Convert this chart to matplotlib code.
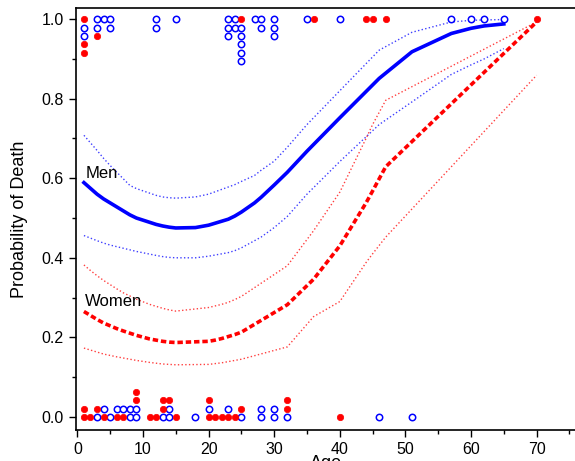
import matplotlib
matplotlib.use("Agg")
import matplotlib.pyplot as plt
from matplotlib.ticker import MultipleLocator

plt.rcParams['font.family'] = ['Liberation Sans', 'DejaVu Sans']

# observed outcomes, listed in the order they stack at each age
died_ages = [1, 1, 1, 1, 1, 3, 3, 3, 4, 5, 5, 12, 12, 15, 23, 23, 23, 24, 24,
             25, 25, 25, 25, 25, 25, 27, 28, 28, 30, 30, 30, 35, 36, 40, 44, 45,
             47, 57, 60, 62, 65, 70]
died_sex = ['F', 'M', 'M', 'F', 'F', 'M', 'M', 'F', 'M', 'M', 'M', 'M', 'M', 'M',
            'M', 'M', 'M', 'M', 'M', 'F', 'M', 'M', 'M', 'M', 'M', 'M', 'M', 'M',
            'M', 'M', 'M', 'M', 'F', 'M', 'F', 'F', 'F', 'M', 'M', 'M', 'M', 'F']
surv_ages = [1, 1, 2, 3, 3, 4, 4, 5, 6, 6, 7, 7, 8, 8, 9, 9, 9, 9, 11, 12, 13, 13,
             13, 14, 14, 14, 15, 18, 20, 20, 20, 21, 22, 23, 23, 24, 25, 25, 28, 28,
             30, 30, 32, 32, 32, 40, 46, 51]
surv_sex = ['F', 'F', 'F', 'M', 'F', 'F', 'M', 'M', 'F', 'M', 'F', 'M', 'M', 'M',
            'M', 'M', 'F', 'F', 'F', 'F', 'M', 'F', 'F', 'M', 'M', 'F', 'F', 'M',
            'F', 'M', 'F', 'F', 'F', 'F', 'M', 'F', 'M', 'F', 'M', 'M', 'M', 'M',
            'M', 'F', 'F', 'F', 'M', 'M']

# fitted probabilities with confidence limits
men_age = [1, 3, 4, 5, 8, 9, 12, 13, 14, 15, 18, 20, 23, 24, 25, 27, 28, 30, 32,
           35, 40, 46, 51, 57, 60, 62, 65]
men_fit = [0.589, 0.560, 0.548, 0.538, 0.508, 0.500, 0.484, 0.480, 0.477, 0.475,
           0.476, 0.482, 0.497, 0.505, 0.515, 0.538, 0.552, 0.583, 0.615, 0.668,
           0.752, 0.851, 0.918, 0.964, 0.977, 0.983, 0.988]
men_upper = [0.708, 0.670, 0.650, 0.632, 0.582, 0.574, 0.557, 0.553, 0.551, 0.550,
             0.553, 0.560, 0.578, 0.584, 0.592, 0.607, 0.620, 0.643, 0.678, 0.735,
             0.820, 0.922, 0.967, 0.993, 0.997, 0.998, 0.999]
men_lower = [0.456, 0.443, 0.437, 0.432, 0.420, 0.416, 0.406, 0.403, 0.401, 0.400,
             0.400, 0.404, 0.413, 0.418, 0.425, 0.443, 0.452, 0.476, 0.504, 0.560,
             0.642, 0.735, 0.792, 0.861, 0.885, 0.900, 0.926]

women_age = [1, 2, 3, 4, 6, 7, 9, 11, 12, 13, 14, 15, 20, 21, 22, 23, 24, 25, 32,
             36, 40, 44, 45, 47, 70]
women_fit = [0.265, 0.255, 0.245, 0.236, 0.222, 0.216, 0.205, 0.196, 0.193, 0.190,
             0.188, 0.187, 0.190, 0.193, 0.197, 0.202, 0.207, 0.213, 0.282, 0.346,
             0.430, 0.538, 0.568, 0.629, 0.993]
women_upper = [0.382, 0.368, 0.355, 0.343, 0.322, 0.312, 0.296, 0.283, 0.278, 0.273,
               0.269, 0.266, 0.275, 0.279, 0.283, 0.288, 0.295, 0.303, 0.380, 0.468,
               0.565, 0.700, 0.735, 0.796, 0.993]
women_lower = [0.173, 0.168, 0.163, 0.158, 0.151, 0.148, 0.142, 0.137, 0.135, 0.133,
               0.132, 0.131, 0.132, 0.134, 0.136, 0.139, 0.142, 0.145, 0.176, 0.252,
               0.290, 0.388, 0.410, 0.452, 0.859]

BLUE = '#0000ff'
RED = '#ff0000'
STEP = 0.021  # vertical offset between stacked points


def stack(ages, sexes, base, direction):
    seen = {}
    pts = {'M': ([], []), 'F': ([], [])}
    for a, s in zip(ages, sexes):
        k = seen.get(a, 0)
        seen[a] = k + 1
        pts[s][0].append(a)
        pts[s][1].append(base + direction * k * STEP)
    return pts


def main():
    fig = plt.figure(figsize=(5.75, 4.61), dpi=100)
    ax = fig.add_axes([0.1317, 0.0672, 0.87, 0.9154])

    ax.plot(men_age, men_upper, ls=':', lw=1.0, color=BLUE, alpha=0.75)
    ax.plot(men_age, men_lower, ls=':', lw=1.0, color=BLUE, alpha=0.75)
    ax.plot(women_age, women_upper, ls=':', lw=1.0, color=RED, alpha=0.75)
    ax.plot(women_age, women_lower, ls=':', lw=1.0, color=RED, alpha=0.75)
    ax.plot(men_age, men_fit, ls='-', lw=2.6, color=BLUE)
    ax.plot(women_age, women_fit, lw=2.6, color=RED, dashes=(1.5, 0.8))

    for pts in (stack(died_ages, died_sex, 1.0, -1), stack(surv_ages, surv_sex, 0.0, 1)):
        ax.plot(pts['M'][0], pts['M'][1], 'o', ms=4.6, mfc='white', mec=BLUE,
                mew=1.1, ls='none', zorder=5)
        ax.plot(pts['F'][0], pts['F'][1], 'o', ms=4.6, mfc=RED, mec=RED,
                mew=0.5, ls='none', zorder=5)

    ax.text(1.2, 0.613, 'Men', fontsize=12, va='center', ha='left')
    ax.text(1.2, 0.289, 'Women', fontsize=12, va='center', ha='left')

    ax.set_xlim(-0.25, 76)
    ax.set_ylim(-0.033, 1.028)
    ax.xaxis.set_major_locator(MultipleLocator(10))
    ax.xaxis.set_minor_locator(MultipleLocator(5))
    ax.yaxis.set_major_locator(MultipleLocator(0.2))
    ax.yaxis.set_minor_locator(MultipleLocator(0.1))
    ax.yaxis.set_major_formatter(plt.FuncFormatter(lambda v, p: '%.1f' % v))
    ax.tick_params(which='major', direction='out', length=5, width=1, labelsize=11.5)
    ax.tick_params(which='minor', direction='out', length=3, width=1)
    ax.spines['right'].set_visible(False)
    for s in ('left', 'bottom', 'top'):
        ax.spines[s].set_linewidth(1.2)
    ax.set_xlabel('Age', fontsize=13, labelpad=-1)
    ax.set_ylabel('Probability of Death', fontsize=13, labelpad=10)

    fig.savefig('out.png', dpi=100)


if __name__ == "__main__":
    main()
